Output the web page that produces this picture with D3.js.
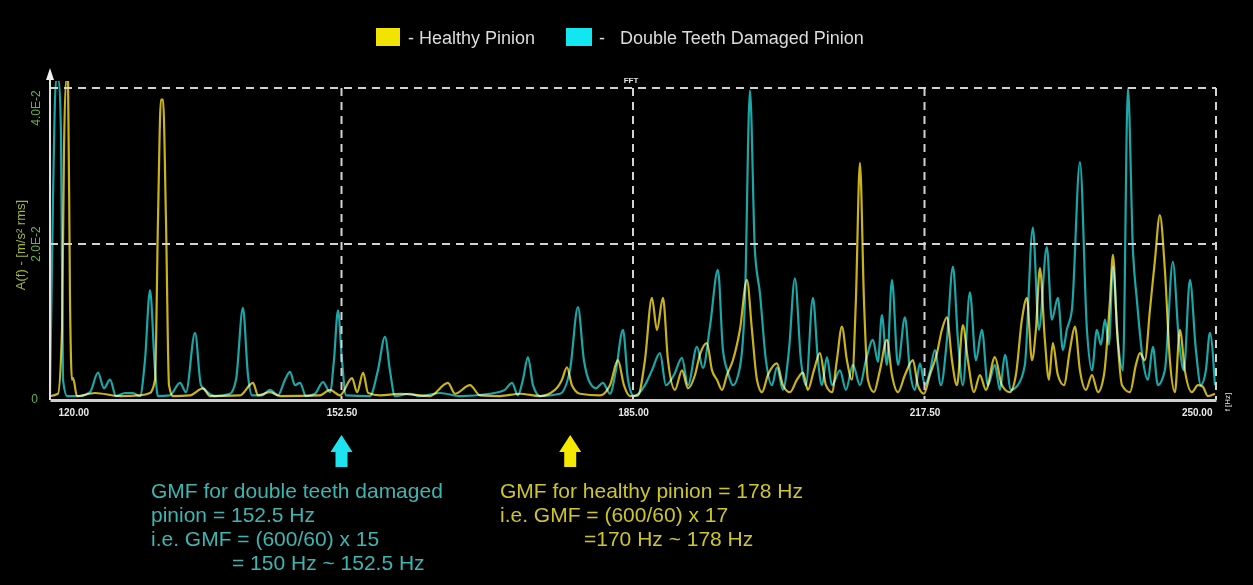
<!DOCTYPE html>
<html lang="en">
<head>
<meta charset="utf-8">
<title>FFT spectrum - healthy vs double teeth damaged pinion</title>
<script src="https://cdn.jsdelivr.net/npm/d3@7"></script>
<style>
  html, body { margin: 0; padding: 0; background: #000; }
  svg { display: block; font-family: "Liberation Sans", Arial, sans-serif; }
  .grid line { stroke: #d2d2d2; stroke-width: 2; stroke-dasharray: 8,6; }
  .series { fill: none; stroke-width: 2.2; stroke-linejoin: round; mix-blend-mode: screen; }
  .note { font-size: 21px; }
</style>
</head>
<body>
<script>

// frequency axis ticks (Hz) and amplitude ticks (m/s^2 rms)
var freqTicks = [120, 152.5, 185, 217.5, 250];
var ampTicks = [0, 0.02, 0.04];
var ampTickLabels = ["0", "2.0E-2", "4.0E-2"];

// [frequency Hz, amplitude] (yellow)
var healthy = [
  [120.00,0.0005],[120.89,0.0008],[121.34,0.0090],[121.56,0.0321],[121.78,0.0410],[122.01,0.0410],
  [122.23,0.0128],[122.45,0.0026],[122.57,0.0028],[123.01,0.0005],[125.02,0.0009],[127.80,0.0005],
  [130.03,0.0006],[131.15,0.0009],[131.71,0.0026],[132.04,0.0231],[132.37,0.0385],[132.60,0.0385],
  [132.93,0.0231],[133.27,0.0019],[133.71,0.0005],[135.61,0.0006],[137.06,0.0015],[137.84,0.0005],
  [141.18,0.0006],[142.63,0.0022],[143.19,0.0006],[144.53,0.0010],[145.64,0.0005],[150.10,0.0006],
  [151.22,0.0013],[152.33,0.0006],[153.68,0.0028],[154.24,0.0010],[154.91,0.0035],[155.47,0.0009],
  [156.79,0.0006],[159.02,0.0008],[162.36,0.0005],[164.37,0.0022],[165.15,0.0008],[166.82,0.0019],
  [167.94,0.0006],[170.17,0.0005],[172.40,0.0008],[174.63,0.0005],[176.30,0.0013],[177.08,0.0026],
  [177.64,0.0042],[178.19,0.0019],[179.09,0.0008],[181.32,0.0006],[182.43,0.0019],[183.32,0.0051],
  [183.99,0.0019],[184.66,0.0005],[185.55,0.0006],[186.33,0.0051],[187.11,0.0131],[187.67,0.0090],
  [188.34,0.0131],[188.90,0.0051],[189.68,0.0013],[190.46,0.0038],[191.13,0.0015],[191.91,0.0032],
  [192.46,0.0058],[193.24,0.0073],[193.81,0.0038],[194.36,0.0026],[194.92,0.0013],[195.47,0.0032],
  [196.14,0.0051],[196.92,0.0090],[197.70,0.0154],[198.26,0.0090],[198.82,0.0026],[199.38,0.0010],
  [200.04,0.0032],[201.05,0.0047],[201.72,0.0019],[202.50,0.0010],[203.28,0.0026],[203.95,0.0035],
  [204.50,0.0013],[205.17,0.0038],[205.84,0.0060],[206.51,0.0019],[207.18,0.0010],[207.73,0.0051],
  [208.29,0.0094],[208.85,0.0051],[209.41,0.0026],[209.85,0.0128],[210.30,0.0304],[210.75,0.0128],
  [211.19,0.0026],[211.86,0.0010],[212.53,0.0038],[213.31,0.0077],[213.87,0.0032],[214.54,0.0010],
  [215.32,0.0032],[216.21,0.0051],[216.76,0.0019],[217.43,0.0008],[218.10,0.0032],[218.89,0.0060],
  [219.44,0.0090],[220.00,0.0106],[220.56,0.0051],[221.12,0.0019],[221.78,0.0096],[222.34,0.0051],
  [223.01,0.0010],[223.68,0.0032],[224.35,0.0013],[225.35,0.0055],[226.13,0.0019],[227.02,0.0010],
  [227.69,0.0032],[228.36,0.0103],[228.92,0.0131],[229.48,0.0051],[229.92,0.0090],[230.37,0.0169],
  [230.92,0.0077],[231.37,0.0026],[231.81,0.0073],[232.37,0.0032],[233.04,0.0019],[233.71,0.0064],
  [234.27,0.0094],[234.83,0.0038],[235.50,0.0013],[236.17,0.0032],[236.84,0.0010],[237.51,0.0032],
  [238.18,0.0128],[238.51,0.0186],[238.96,0.0090],[239.52,0.0019],[240.41,0.0010],[241.07,0.0045],
  [241.52,0.0060],[242.07,0.0051],[242.63,0.0115],[243.19,0.0179],[243.74,0.0237],[244.30,0.0167],
  [244.86,0.0051],[245.42,0.0010],[245.97,0.0090],[246.53,0.0038],[247.31,0.0010],[247.98,0.0019],
  [248.53,0.0017],[249.09,0.0005],[249.88,0.0008]
];

// [frequency Hz, amplitude] (teal)
var damaged = [
  [120.00,0.0005],[120.33,0.0256],[120.67,0.0410],[121.00,0.0410],[121.23,0.0336],[121.45,0.0026],
  [121.90,0.0005],[123.35,0.0005],[124.46,0.0010],[125.35,0.0035],[126.02,0.0015],[126.69,0.0026],
  [127.36,0.0005],[128.36,0.0009],[129.25,0.0009],[130.03,0.0005],[130.59,0.0051],[131.15,0.0141],
  [131.71,0.0038],[132.04,0.0005],[133.38,0.0006],[134.49,0.0022],[135.16,0.0010],[136.17,0.0086],
  [136.83,0.0019],[137.28,0.0013],[138.39,0.0005],[140.07,0.0008],[140.74,0.0026],[141.51,0.0118],
  [142.07,0.0032],[142.52,0.0006],[143.64,0.0006],[144.53,0.0013],[145.42,0.0006],[146.20,0.0026],
  [146.76,0.0036],[147.31,0.0019],[147.87,0.0022],[148.54,0.0005],[149.54,0.0008],[150.43,0.0023],
  [151.22,0.0010],[151.66,0.0051],[152.11,0.0115],[152.55,0.0051],[153.00,0.0006],[155.67,0.0005],
  [156.56,0.0038],[157.35,0.0081],[157.90,0.0038],[158.46,0.0005],[160.13,0.0008],[161.25,0.0005],
  [163.48,0.0009],[165.71,0.0005],[169.05,0.0008],[170.72,0.0013],[171.51,0.0022],[172.17,0.0006],
  [172.73,0.0026],[173.29,0.0055],[173.85,0.0019],[174.63,0.0005],[176.86,0.0008],[177.97,0.0038],
  [178.86,0.0119],[179.53,0.0051],[180.20,0.0022],[180.87,0.0015],[181.65,0.0022],[182.43,0.0008],
  [183.10,0.0038],[183.88,0.0090],[184.44,0.0026],[185.10,0.0005],[186.33,0.0019],[187.11,0.0038],
  [188.01,0.0060],[188.67,0.0019],[189.56,0.0032],[190.46,0.0054],[191.13,0.0019],[192.13,0.0068],
  [192.80,0.0041],[193.58,0.0094],[194.47,0.0167],[195.03,0.0064],[195.59,0.0035],[196.14,0.0019],
  [196.92,0.0042],[197.48,0.0128],[198.04,0.0397],[198.59,0.0192],[199.15,0.0137],[199.82,0.0051],
  [200.49,0.0019],[201.05,0.0042],[201.72,0.0013],[202.39,0.0064],[203.05,0.0156],[203.72,0.0051],
  [204.28,0.0019],[205.06,0.0131],[205.62,0.0051],[206.07,0.0019],[206.62,0.0055],[207.18,0.0019],
  [208.07,0.0038],[208.74,0.0013],[209.52,0.0045],[210.30,0.0019],[210.97,0.0051],[211.75,0.0077],
  [212.31,0.0049],[212.75,0.0109],[213.31,0.0045],[213.87,0.0154],[214.54,0.0045],[215.32,0.0106],
  [215.87,0.0038],[216.43,0.0013],[216.99,0.0047],[217.55,0.0019],[218.10,0.0036],[218.66,0.0064],
  [219.33,0.0019],[220.00,0.0077],[220.67,0.0171],[221.23,0.0077],[221.78,0.0019],[222.56,0.0138],
  [223.23,0.0051],[223.90,0.0090],[224.57,0.0019],[225.35,0.0045],[225.91,0.0013],[226.47,0.0058],
  [227.13,0.0013],[227.91,0.0019],[228.69,0.0045],[229.58,0.0221],[230.25,0.0090],[231.14,0.0196],
  [231.70,0.0103],[232.37,0.0131],[232.93,0.0064],[233.37,0.0090],[233.93,0.0115],[234.83,0.0305],
  [235.61,0.0090],[236.17,0.0038],[236.72,0.0090],[237.17,0.0071],[237.62,0.0103],[238.06,0.0071],
  [238.51,0.0171],[239.06,0.0077],[239.62,0.0038],[240.18,0.0400],[240.74,0.0192],[241.18,0.0128],
  [241.85,0.0051],[242.41,0.0026],[242.96,0.0068],[243.52,0.0019],[244.30,0.0038],[245.19,0.0177],
  [245.86,0.0077],[246.42,0.0038],[247.09,0.0154],[247.76,0.0064],[248.31,0.0019],[248.87,0.0038],
  [249.32,0.0086],[249.88,0.0019]
];

// annotation lines
var damagedNote = ["GMF for double teeth damaged", "pinion = 152.5 Hz", "i.e. GMF = (600/60) x 15", "= 150 Hz ~ 152.5 Hz"];
var healthyNote = ["GMF for healthy pinion = 178 Hz", "i.e. GMF = (600/60) x 17", "=170 Hz ~ 178 Hz"];
var gmfDamaged = 152.5, gmfHealthy = 178;

var w = 1253, h = 585;
var yellow = "#c9b21a", teal = "#1ba6a8";

var svg = d3.select("body").append("svg")
    .attr("width", w)
    .attr("height", h);

svg.append("rect").attr("width", w).attr("height", h).attr("fill", "#000");

var x = d3.scaleLinear().domain([120, 250]).range([50, 1216]);
var y = d3.scaleLinear().domain([0, 0.04]).range([400, 88]);

//clip so the tall peaks are cut at the top of the frame
svg.append("clipPath").attr("id", "plotclip")
  .append("rect")
    .attr("x", x(120)).attr("y", y(0.0409))
    .attr("width", x(250) - x(120)).attr("height", y(0) - y(0.0409));

//traces
var line = d3.line()
    .curve(d3.curveMonotoneX)
    .x(function(d) { return x(d[0]); })
    .y(function(d) { return y(d[1]); });

var traces = svg.append("g").attr("clip-path", "url(#plotclip)").style("isolation", "isolate");
traces.append("path").datum(healthy).attr("class", "series").attr("stroke", yellow).attr("d", line);
traces.append("path").datum(damaged).attr("class", "series").attr("stroke", teal).attr("d", line);

//dashed grid
var grid = svg.append("g").attr("class", "grid");
grid.selectAll("line.v")
    .data(freqTicks.slice(1))
    .enter().append("line")
    .attr("x1", function(d) { return x(d); }).attr("x2", function(d) { return x(d); })
    .attr("y1", y(0.04)).attr("y2", y(0));
grid.selectAll("line.h")
    .data(ampTicks.slice(1))
    .enter().append("line")
    .attr("x1", x(120)).attr("x2", x(250))
    .attr("y1", function(d) { return y(d); }).attr("y2", function(d) { return y(d); });

//bottom axis
var xAxis = d3.axisBottom(x)
    .tickValues(freqTicks)
    .tickSize(0)
    .tickPadding(9)
    .tickFormat(d3.format(".2f"));
var gx = svg.append("g").attr("transform", "translate(0," + y(0) + ")").call(xAxis);
gx.select(".domain").attr("stroke", "#cfcfcf").attr("stroke-width", 3);
gx.selectAll("text")
    .attr("fill", "#e8e8e8")
    .style("font-size", "10px")
    .style("font-weight", "bold")
    .attr("text-anchor", function(d, i) { return i === 0 ? "start" : (i === freqTicks.length - 1 ? "end" : "middle"); })
    .attr("dx", function(d, i) { return i === 0 ? 8 : (i === freqTicks.length - 1 ? -4 : 0); });

//left axis line with arrow head
svg.append("line")
    .attr("x1", x(120)).attr("x2", x(120))
    .attr("y1", 76).attr("y2", y(0))
    .attr("stroke", "#e0e0e0").attr("stroke-width", 2);
svg.append("path")
    .attr("d", "M" + (x(120) - 4) + ",80L" + x(120) + ",68L" + (x(120) + 4) + ",80Z")
    .attr("fill", "#f0f0f0");

//amplitude tick labels
svg.selectAll("text.ytick")
    .data(ampTicks)
    .enter().append("text")
    .attr("class", "ytick")
    .attr("fill", "#69b04a")
    .style("font-size", "12px")
    .attr("text-anchor", function(d, i) { return i === 0 ? "end" : "middle"; })
    .attr("transform", function(d, i) {
        if (i === 0) return "translate(" + (x(120) - 12) + "," + (y(d) + 3) + ")";
        var cy = i === ampTicks.length - 1 ? y(d) + 20 : y(d);
        return "translate(" + (x(120) - 10) + "," + cy + ") rotate(-90)";
    })
    .text(function(d, i) { return ampTickLabels[i]; });

//axis titles
svg.append("text")
    .attr("transform", "translate(" + 25 + "," + 245 + ") rotate(-90)")
    .attr("text-anchor", "middle")
    .attr("fill", "#a9b52c")
    .style("font-size", "13px")
    .text("A(f) - [m/s² rms]");
svg.append("text")
    .attr("transform", "translate(" + 1230 + "," + 402 + ") rotate(-90)")
    .attr("text-anchor", "middle")
    .attr("fill", "#e0e0e0")
    .style("font-size", "8px")
    .text("f [Hz]");
svg.append("text")
    .attr("x", x(185) - 2).attr("y", 83)
    .attr("text-anchor", "middle")
    .attr("fill", "#e0e0e0")
    .style("font-size", "8px")
    .style("font-weight", "bold")
    .text("FFT");

//legend
var legend = svg.append("g").style("font-size", "18px").attr("fill", "#dcdcdc");
legend.append("rect").attr("x", 376).attr("y", 28).attr("width", 24).attr("height", 18).attr("fill", "#f2e400");
legend.append("text").attr("x", 408).attr("y", 44).text("- Healthy Pinion");
legend.append("rect").attr("x", 566).attr("y", 28).attr("width", 26).attr("height", 18).attr("fill", "#12e6f0");
legend.append("text").attr("x", 599).attr("y", 44).text("-");
legend.append("text").attr("x", 620).attr("y", 44).text("Double Teeth Damaged Pinion");

//GMF arrows
function upArrow(cx, color) {
    svg.append("path")
        .attr("d", "M" + cx + ",435L" + (cx + 11) + ",452L" + (cx + 6) + ",452L" + (cx + 6) + ",467L" +
                   (cx - 6) + ",467L" + (cx - 6) + ",452L" + (cx - 11) + ",452Z")
        .attr("fill", color);
}
upArrow(x(gmfDamaged), "#1ee4f2");
upArrow(x(gmfHealthy), "#f6e900");

//annotation text
svg.selectAll("text.dnote")
    .data(damagedNote)
    .enter().append("text")
    .attr("class", "note dnote")
    .attr("fill", "#3db6b3")
    .attr("x", function(d, i) { return i === 3 ? 232 : 151; })
    .attr("y", function(d, i) { return 498 + i * 24; })
    .text(function(d) { return d; });

svg.selectAll("text.hnote")
    .data(healthyNote)
    .enter().append("text")
    .attr("class", "note hnote")
    .attr("fill", "#cdc52a")
    .attr("x", function(d, i) { return i === 2 ? 584 : 500; })
    .attr("y", function(d, i) { return 498 + i * 24; })
    .text(function(d) { return d; });

</script>
</body>
</html>
